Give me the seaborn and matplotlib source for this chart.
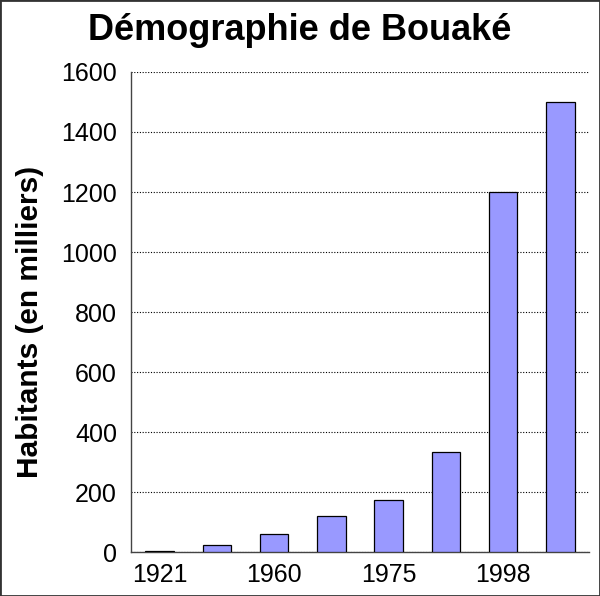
import matplotlib
matplotlib.use("Agg")
import matplotlib.pyplot as plt
import seaborn as sns
import pandas as pd

annees = ["1921", "1948", "1960", "1965", "1975", "1988", "1998", "2006"]
habitants = [4, 22, 61, 121, 175, 333, 1200, 1500]
annees_affichees = ["1921", "1960", "1975", "1998"]

sns.set_style("white")
plt.rcParams["font.family"] = ["Liberation Sans", "DejaVu Sans"]
plt.rcParams["text.color"] = "black"
plt.rcParams["axes.labelcolor"] = "black"
plt.rcParams["xtick.color"] = "black"
plt.rcParams["ytick.color"] = "black"

df = pd.DataFrame({"annee": annees, "habitants": habitants})

fig = plt.figure(figsize=(6, 5.96), dpi=100)
ax = fig.add_axes([0.2183, 0.0738, 0.7634, 0.8054])

sns.barplot(data=df, x="annee", y="habitants", color="#9999FF",
            saturation=1, width=0.5, edgecolor="black", linewidth=0.9, ax=ax, zorder=3)

ax.set_ylim(0, 1600)
ax.set_xlim(-0.5, len(annees) - 0.5)
ax.set_yticks(range(0, 1601, 200))
ax.yaxis.grid(True, linestyle=(0, (1, 1.5)), color="black", linewidth=0.8, zorder=0)
ax.xaxis.grid(False)

# étiquettes une année sur deux, tirets entre les barres
pos = [annees.index(a) for a in annees_affichees]
ax.set_xticks(pos)
ax.set_xticklabels(annees_affichees)
ax.set_xticks([i - 0.5 for i in range(len(annees) + 1)], minor=True)
ax.tick_params(axis="x", which="major", length=0, pad=8, labelsize=18)
ax.tick_params(axis="x", which="minor", length=6, width=1, color="#444444", direction="out")
ax.tick_params(axis="y", length=6, width=1, color="#444444", direction="out", labelsize=18, pad=4)

for s in ["top", "right"]:
    ax.spines[s].set_visible(False)
for s in ["left", "bottom"]:
    ax.spines[s].set_color("#444444")
    ax.spines[s].set_linewidth(1)

ax.set_xlabel("")
ax.set_ylabel("Habitants (en milliers)", fontsize=21.5, fontweight="bold")
ax.yaxis.set_label_coords(-0.19, 0.48)
fig.suptitle("Démographie de Bouaké", fontsize=26, fontweight="bold", x=0.5, y=0.978)

fig.patches.append(plt.Rectangle((0, 0), 1, 1, transform=fig.transFigure,
                                 fill=False, edgecolor="#333333", linewidth=2))

fig.savefig("out.png", dpi=100)
